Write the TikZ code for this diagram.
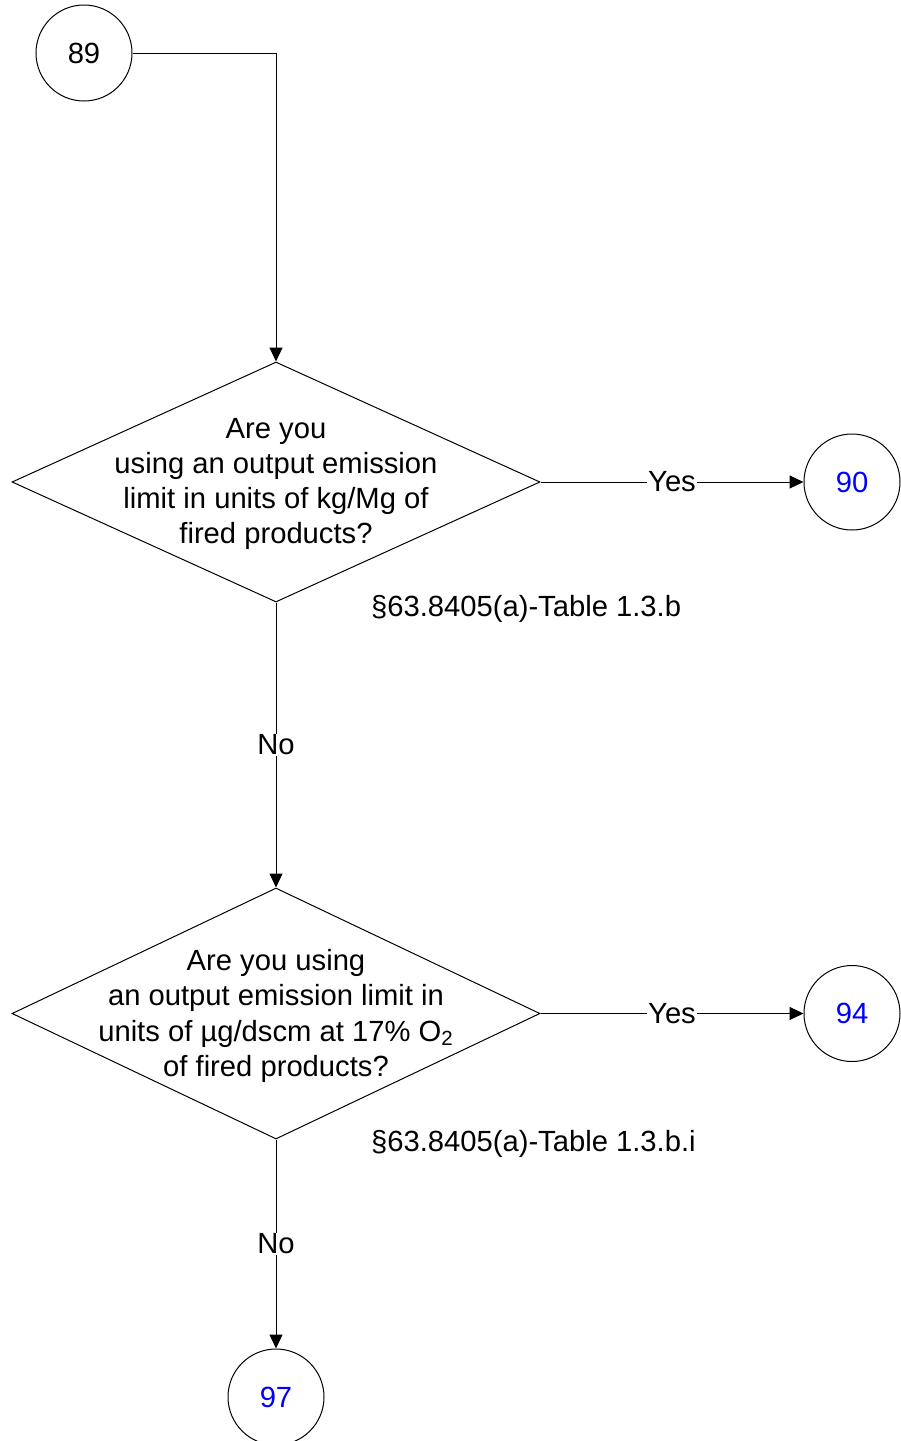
\documentclass[tikz,border=0pt]{standalone}
\usepackage{fontspec}
\setmainfont{Liberation Sans}
\usepackage{tikz}
\usetikzlibrary{positioning}
\usetikzlibrary{shapes.geometric}
\usetikzlibrary{arrows.meta}
\definecolor{linkblue}{RGB}{0,0,255}

\begin{document}
\begin{tikzpicture}[x=0.5pt,y=-0.5pt,
  every node/.style={font=\fontsize{14.6pt}{17.65pt}\selectfont},
  connector/.style={draw,circle,minimum size=48pt,inner sep=0pt,line width=0.5pt},
  decision/.style={draw,diamond,minimum width=264pt,inner sep=0pt,line width=0.5pt},
  flow/.style={-{Triangle[length=7pt,width=6.5pt]},line width=0.5pt},
  answer/.style={fill=white,inner sep=0.5pt}]
  \useasboundingbox (0,0) rectangle (900,1441);

  \node at (84,53) [connector] (c89) {89};

  \node at (276,482) [decision,minimum height=120pt] (q1) {};
  \node at (276,484) [align=center] (q1text) {
    Are you\\using an output emission\\limit in units of kg/Mg of\\fired products?
  };
  \node at (364,609) [anchor=west] (q1ref) {§63.8405(a)-Table 1.3.b};

  \node at (852,482) [connector,text=linkblue] (c90) {90};

  \node at (276,1013.5) [decision,minimum height=125.5pt] (q2) {};
  \node at (276,1016) [align=center] (q2text) {
    Are you using\\an output emission limit in\\units of µg/dscm at 17\% O\textsubscript{2}\\of fired products?
  };
  \node at (364,1144) [anchor=west] (q2ref) {§63.8405(a)-Table 1.3.b.i};

  \node at (852,1013.5) [connector,text=linkblue] (c94) {94};

  \node at (276,1397) [connector,text=linkblue] (c97) {97};

  \draw[flow] (c89) -| (q1);
  \draw[flow] (q1) -- node[answer] {Yes} (c90);
  \draw[flow] (q1) -- node[answer] {No} (q2);
  \draw[flow] (q2) -- node[answer] {Yes} (c94);
  \draw[flow] (q2) -- node[answer] {No} (c97);
\end{tikzpicture}
\end{document}
